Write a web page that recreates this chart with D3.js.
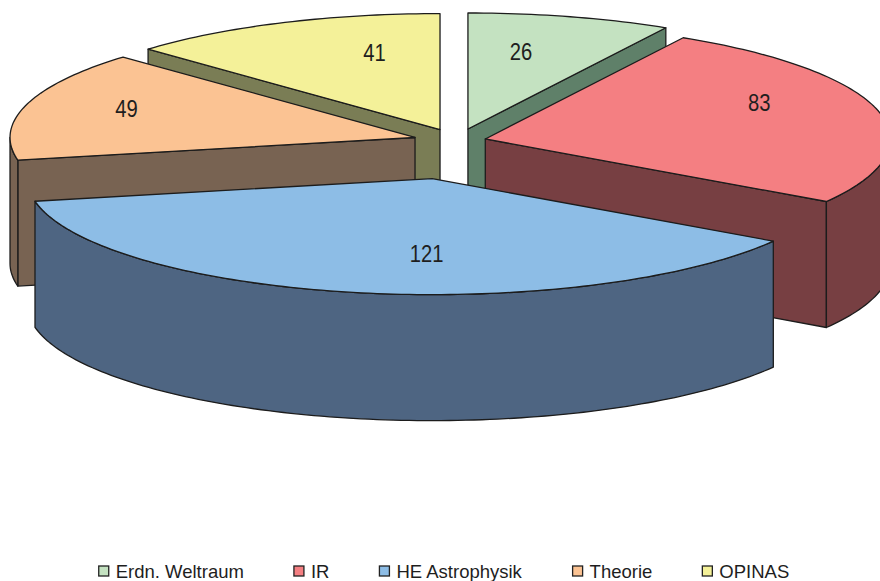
<html lang="de">
<head>
<meta charset="utf-8">
<title>3D Pie</title>
<style>
  body { margin: 0; background: #fff; }
  text { font-family: "Liberation Sans", Arial, sans-serif; fill: #1e1e1e; }
</style>
</head>
<body>
<div id="chart"></div>
<script src="https://cdnjs.cloudflare.com/ajax/libs/d3/7.8.5/d3.min.js"></script>
<script>
// data
var categories = ["Erdn. Weltraum", "IR", "HE Astrophysik", "Theorie", "OPINAS"];
var values = [26, 83, 121, 49, 41];

// per-slice look (explosion as fraction of radius, like Excel)
var explode = [0.107, 0.072, 0.33, 0.108, 0.107];
var topColors = ["#c4e2c1", "#f47f82", "#8dbde6", "#fbc393", "#f4f199"];
var sideColors = ["#5f8069", "#773f42", "#4e6582", "#786352", "#7a7d55"];

var W = 880, H = 581;
var cx = 457, cy = 141;     // pie centre (top face)
var rx = 405, ry = 116;     // ellipse radii
var depth = 126;

var svg = d3.select("#chart").append("svg")
    .attr("width", W).attr("height", H);

var pie = d3.pie().sort(null).value(function(d) { return d; });
var arcs = pie(values);

var line = d3.line();

function pt(o, t, dy) {
    return [o[0] + rx * Math.sin(t), o[1] - ry * Math.cos(t) + (dy || 0)];
}
function arcPts(o, t0, t1, dy) {
    var n = Math.max(2, Math.ceil(Math.abs(t1 - t0) / 0.02));
    return d3.range(n + 1).map(function(i) { return pt(o, t0 + (t1 - t0) * i / n, dy); });
}
// angle on screen (clockwise from up) of a rim point
function screenAngle(t) {
    var a = Math.atan2(rx * Math.sin(t), ry * Math.cos(t));
    return a < 0 ? a + 2 * Math.PI : a;
}

var slices = arcs.map(function(a, i) {
    var m = (a.startAngle + a.endAngle) / 2;
    var e = explode[i];
    var apex = [cx + e * rx * Math.sin(m), cy - e * ry * Math.cos(m)];
    // label: along the bisector of the drawn wedge
    var s0 = screenAngle(a.startAngle), s1 = screenAngle(a.endAngle);
    if (s1 < s0) s1 += 2 * Math.PI;
    var phi = (s0 + s1) / 2;
    var R = 1 / Math.sqrt(Math.pow(Math.sin(phi) / rx, 2) + Math.pow(Math.cos(phi) / ry, 2));
    var lab = [apex[0] + 0.76 * R * Math.sin(phi), apex[1] - 0.66 * R * Math.cos(phi) - 2];
    return {i: i, a: a, m: m, apex: apex, lab: lab};
});

// back to front
var order = slices.slice().sort(function(p, q) { return Math.cos(q.m) - Math.cos(p.m); });

var g = svg.append("g");
var stroke = "#1c1c1c";

order.forEach(function(s) {
    var a0 = s.a.startAngle, a1 = s.a.endAngle, o = s.apex;
    var sg = g.append("g");

    // radial walls facing the viewer
    [[a0, Math.sin(a0) < -1e-6], [a1, Math.sin(a1) > 1e-6]].forEach(function(w) {
        if (!w[1]) return;
        var r = pt(o, w[0]);
        var p = [o, r, [r[0], r[1] + depth], [o[0], o[1] + depth]];
        sg.append("path")
            .attr("d", line(p) + "Z")
            .attr("fill", sideColors[s.i]).attr("stroke", stroke)
            .attr("stroke-width", 1.3).attr("stroke-linejoin", "round");
    });

    // outer wall, front half only
    var t0 = Math.max(a0, Math.PI / 2), t1 = Math.min(a1, 3 * Math.PI / 2);
    if (t1 > t0) {
        var p = arcPts(o, t0, t1).concat(arcPts(o, t1, t0, depth));
        sg.append("path")
            .attr("d", line(p) + "Z")
            .attr("fill", sideColors[s.i]).attr("stroke", stroke)
            .attr("stroke-width", 1.3).attr("stroke-linejoin", "round");
    }

    // top face
    var tp = [o].concat(arcPts(o, a0, a1));
    sg.append("path")
        .attr("d", line(tp) + "Z")
        .attr("fill", topColors[s.i]).attr("stroke", stroke)
        .attr("stroke-width", 1.3).attr("stroke-linejoin", "round");
});

// value labels (narrow look)
svg.append("g").selectAll("text")
    .data(slices)
    .join("text")
    .attr("transform", function(s) {
        return "translate(" + s.lab[0] + "," + (s.lab[1] + 8.5) + ") scale(0.86,1)";
    })
    .attr("text-anchor", "middle")
    .attr("font-size", 23.5)
    .text(function(s) { return values[s.i]; });

// legend
var legend = svg.append("g").attr("transform", "translate(0,571)");
var items = legend.selectAll("g").data(categories).join("g");
items.append("rect")
    .attr("width", 10).attr("height", 10).attr("y", -5)
    .attr("fill", function(d, i) { return topColors[i]; })
    .attr("stroke", "#222").attr("stroke-width", 1.3);
items.append("text")
    .attr("x", 17).attr("y", 6.5)
    .attr("font-size", 18.5)
    .text(function(d) { return d; });

var x = 0, gap = 50, pos = [];
items.each(function() {
    pos.push(x);
    x += this.getBBox().width + gap;
});
var total = x - gap;
var start = 444 - total / 2;
items.attr("transform", function(d, i) { return "translate(" + (start + pos[i]) + ",0)"; });
</script>
</body>
</html>
